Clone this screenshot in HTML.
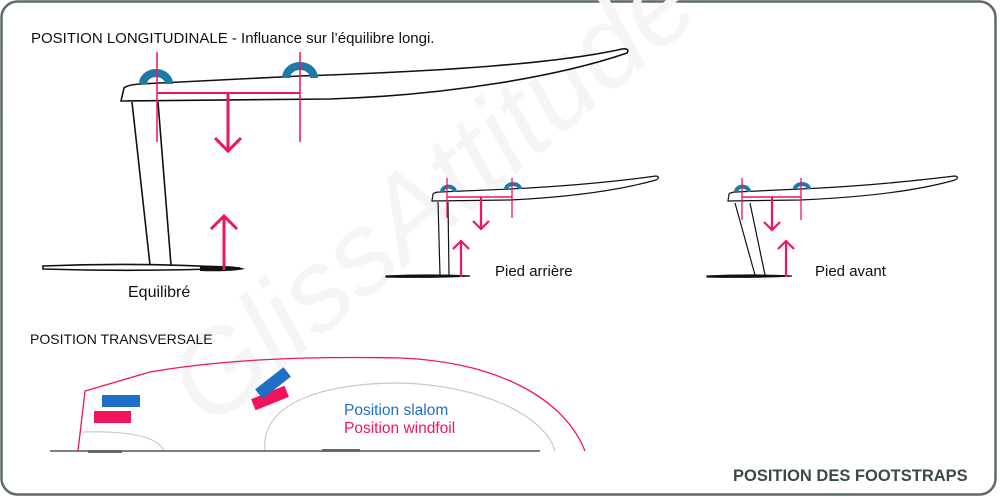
<!DOCTYPE html>
<html><head><meta charset="utf-8"><style>
html,body{margin:0;padding:0;background:#fff}
svg{display:block}
text{font-family:"Liberation Sans",sans-serif}
</style></head><body>
<svg width="1000" height="497" viewBox="0 0 1000 497" xmlns="http://www.w3.org/2000/svg">
<rect x="1.5" y="1.5" width="994" height="493" rx="16" fill="#fff" stroke="#5f6b6b" stroke-width="2.5"/>
<!-- watermark -->
<text x="0" y="0" transform="translate(210,430) rotate(-40)" font-size="115" fill="#f5f5f5" font-style="italic">GlissAttitude</text>

<text x="31" y="43" font-size="15" fill="#111">POSITION LONGITUDINALE - Influance sur l’équilibre longi.</text>

<!-- main board -->
<g fill="none" stroke="#111" stroke-width="1.6">
<path d="M121,101 L124,88 Q127,85 140,84 L300,76 C450,71 560,63 622,49 Q630,48 627,53 C560,76 450,95 330,99 L121,101 Z" fill="#fff"/>
<path d="M132,102 L150,265 M158,102 L171,265"/>
<path d="M43,266 Q140,262 240,268 Q140,272 43,269 Z" fill="#fff"/>
</g>
<path d="M200,266 Q235,265 245,269 Q230,272 200,271 Z" fill="#111"/>
<g fill="none" stroke="#1e78a8" stroke-width="8">
<path d="M143,84 A13,11 0 0 1 169,84"/>
<path d="M286,78 A14,12 0 0 1 314,78"/>
</g>
<g stroke="#f0155a" fill="none">
<path d="M157,52 V142 M300,52 V142" stroke-width="1.5"/>
<path d="M157,93 H300" stroke-width="2"/>
<path d="M228,93 V151 M215,138 L228,151 L241,138" stroke-width="3"/>
<path d="M224,270 V216 M211,229 L224,216 L237,229" stroke-width="3"/>
</g>
<text x="128" y="297" font-size="16" fill="#111">Equilibré</text>

<!-- small board 1 -->
<g fill="none" stroke="#111" stroke-width="1.2">
<path d="M432,201 L433,194 Q435,192 440,192 L510,189 C570,186 620,181 656,176 Q661,177 656,180 C620,190 570,197 510,200 L432,201 Z" fill="#fff"/>
<path d="M438,202 L440,275 M448,202 L449,275"/>
<path d="M386,276 Q430,274 470,276 Q430,278 386,277 Z" fill="#111"/>
</g>
<g fill="none" stroke="#1e78a8" stroke-width="4">
<path d="M442,192 A6,5 0 0 1 455,192"/>
<path d="M506,189 A7,5 0 0 1 520,189"/>
</g>
<g stroke="#f0155a" fill="none">
<path d="M447,178 V218 M512,178 V218" stroke-width="1.3"/>
<path d="M447,197 H512" stroke-width="1.5"/>
<path d="M481,197 V229 M473,221 L481,229 L489,221" stroke-width="2.2"/>
<path d="M461,277 V241 M453,249 L461,241 L469,249" stroke-width="2.2"/>
</g>
<text x="495" y="276" font-size="15" fill="#111">Pied arrière</text>

<!-- small board 2 -->
<g fill="none" stroke="#111" stroke-width="1.2">
<path d="M728,201 L729,194 Q731,192 736,192 L800,189 C870,186 920,180 955,176 Q960,177 955,180 C920,190 870,197 800,200 L728,201 Z" fill="#fff"/>
<path d="M735,203 L755,275 M750,203 L765,275"/>
<path d="M707,276 Q750,274 792,276 Q750,278 707,277 Z" fill="#111"/>
</g>
<g fill="none" stroke="#1e78a8" stroke-width="4">
<path d="M736,192 A6,5 0 0 1 749,192"/>
<path d="M795,189 A7,5 0 0 1 809,189"/>
</g>
<g stroke="#f0155a" fill="none">
<path d="M742,178 V220 M801,178 V220" stroke-width="1.3"/>
<path d="M742,197 H801" stroke-width="1.5"/>
<path d="M772,197 V230 M764,222 L772,230 L780,222" stroke-width="2.2"/>
<path d="M786,277 V241 M778,249 L786,241 L794,249" stroke-width="2.2"/>
</g>
<text x="815" y="276" font-size="15" fill="#111">Pied avant</text>

<!-- transversal -->
<text x="30" y="344" font-size="14" fill="#111">POSITION TRANSVERSALE</text>
<g fill="none">
<path d="M78,451 L85,391 L150,372 C220,360 300,356 400,358 C500,362 565,400 585,451" stroke="#f0155a" stroke-width="1.3"/>
<path d="M265,451 C260,400 330,383 400,383 C480,385 545,415 555,451" stroke="#c8c8c8" stroke-width="1.2"/>
<path d="M83,432 Q155,430 164,451" stroke="#c8c8c8" stroke-width="1.2"/>
<path d="M50,451 H540" stroke="#555" stroke-width="1.5"/>
</g>
<rect x="88" y="450" width="34" height="3" fill="#666"/>
<rect x="322" y="449" width="38" height="3" fill="#666"/>
<rect x="102" y="395" width="38" height="12" fill="#1e6fc8"/>
<rect x="94" y="411" width="37" height="12" fill="#f0155a"/>
<rect x="-18" y="-6" width="36" height="12" fill="#f0155a" transform="translate(270,398) rotate(-22)"/>
<rect x="-18" y="-6" width="36" height="12" fill="#1e6fc8" transform="translate(273,383) rotate(-38)"/>
<text x="344" y="415" font-size="15.5" fill="#1e6fc8">Position slalom</text>
<text x="344" y="433" font-size="15.5" fill="#f0155a">Position windfoil</text>

<text x="733" y="481" font-size="16.5" font-weight="bold" fill="#3e4a4a">POSITION DES FOOTSTRAPS</text>
</svg>
</body></html>
